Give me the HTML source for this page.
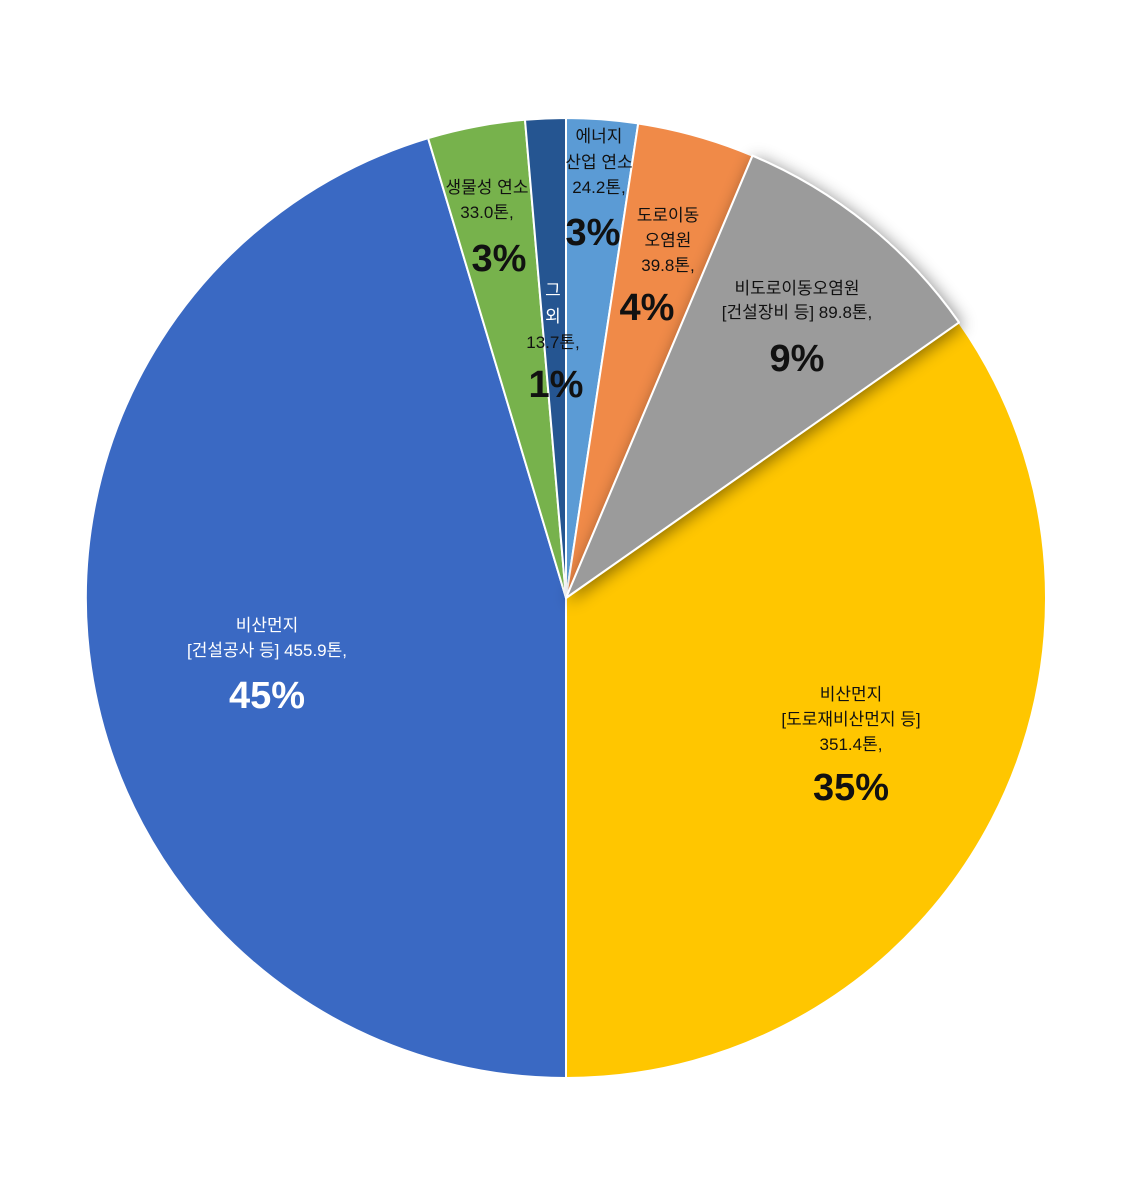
<!DOCTYPE html>
<html><head><meta charset="utf-8"><style>
html,body{margin:0;padding:0;background:#fff;}
text{font-family:"Liberation Sans","Noto Sans CJK KR",sans-serif;text-anchor:middle;}
.s{font-size:17px;}
.b{font-size:38px;font-weight:bold;}
</style></head><body>
<svg width="1131" height="1198" viewBox="0 0 1131 1198" xmlns="http://www.w3.org/2000/svg">
<defs><filter id="sh" x="-30%" y="-30%" width="160%" height="160%"><feDropShadow dx="3" dy="3" stdDeviation="8" flood-color="#000" flood-opacity="0.45"/></filter></defs>
<g stroke="#fff" stroke-width="2" stroke-linejoin="round">
<path d="M566,598 L566,118 A480,480 0 0 1 638.2,123.5 Z" fill="#5B9BD5"/>
<path d="M566,598 L638.2,123.5 A480,480 0 0 1 752.5,155.7 Z" fill="#F08A48"/>
<path d="M566,598 L959,322.4 A480,480 0 0 1 566,1078 Z" fill="#FFC600"/>
<path d="M566,598 L566,1078 A480,480 0 0 1 428.1,138.2 Z" fill="#3A69C3"/>
<path d="M566,598 L428.1,138.2 A480,480 0 0 1 525,119.8 Z" fill="#77B24C"/>
<path d="M566,598 L525,119.8 A480,480 0 0 1 566,118 Z" fill="#255591"/>
<path d="M566,598 L752.5,155.7 A480,480 0 0 1 959,322.4 Z" fill="#9B9B9B" filter="url(#sh)"/>
</g>
<g fill="#111">
<text class="s" x="599" y="142">에너지</text>
<text class="s" x="599" y="168">산업 연소</text>
<text class="s" x="599" y="193">24.2톤,</text>
<text class="b" x="593" y="245">3%</text>
<text class="s" x="668" y="221">도로이동</text>
<text class="s" x="668" y="246">오염원</text>
<text class="s" x="668" y="271">39.8톤,</text>
<text class="b" x="647" y="320">4%</text>
<text class="s" x="797" y="294">비도로이동오염원</text>
<text class="s" x="797" y="318">[건설장비 등] 89.8톤,</text>
<text class="b" x="797" y="371">9%</text>
<text class="s" x="487" y="193">생물성 연소</text>
<text class="s" x="487" y="218">33.0톤,</text>
<text class="b" x="499" y="271">3%</text>
<text class="s" x="553" y="348">13.7톤,</text>
<text class="b" x="556" y="397">1%</text>
<text class="s" x="851" y="700">비산먼지</text>
<text class="s" x="851" y="725">[도로재비산먼지 등]</text>
<text class="s" x="851" y="750">351.4톤,</text>
<text class="b" x="851" y="800">35%</text>
</g>
<g fill="#fff">
<text class="s" x="553" y="296">그</text>
<text class="s" x="553" y="322">외</text>
<text class="s" x="267" y="631">비산먼지</text>
<text class="s" x="267" y="656">[건설공사 등] 455.9톤,</text>
<text class="b" x="267" y="708">45%</text>
</g>
</svg>
</body></html>
